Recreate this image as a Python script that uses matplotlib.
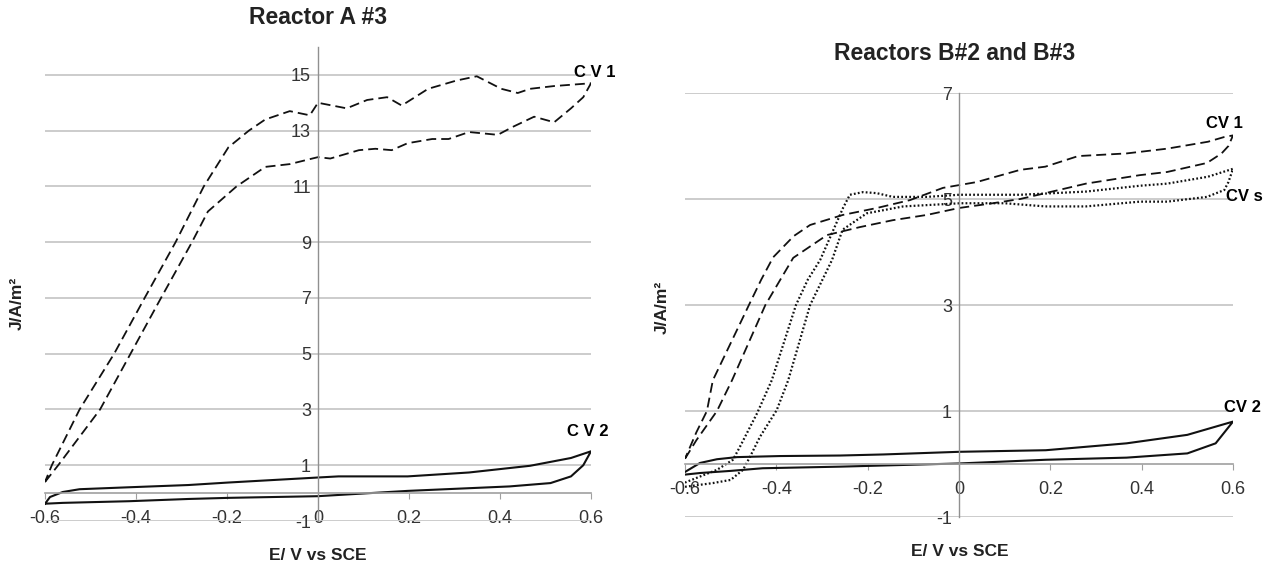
import matplotlib
matplotlib.use("Agg")
import matplotlib.pyplot as plt

plt.rcParams['font.family'] = ['Liberation Sans', 'DejaVu Sans']

# Reactor A #3 - CV 1 (dashed loop), forward branch then backward branch
a_cv1_x = [-0.6, -0.571, -0.479, -0.412, -0.345, -0.277, -0.242, -0.179, -0.116, -0.062, 0.0, 0.027,
           0.09, 0.126, 0.162, 0.197, 0.251, 0.287, 0.332, 0.395, 0.43, 0.475, 0.519, 0.556, 0.583, 0.6,
           0.519, 0.466, 0.439, 0.403, 0.349, 0.305, 0.242, 0.184, 0.152, 0.108, 0.063, 0.0, -0.018,
           -0.062, -0.116, -0.152, -0.197, -0.251, -0.313, -0.381, -0.448, -0.524, -0.585, -0.6]
a_cv1_y = [0.4, 1.0, 3.0, 5.0, 7.0, 9.0, 10.1, 11.0, 11.7, 11.8, 12.05, 12.0,
           12.3, 12.35, 12.3, 12.55, 12.7, 12.7, 12.95, 12.85, 13.15, 13.5, 13.3, 13.8, 14.2, 14.7,
           14.6, 14.5, 14.35, 14.5, 14.95, 14.8, 14.5, 13.9, 14.2, 14.1, 13.8, 14.0, 13.55,
           13.7, 13.4, 13.0, 12.4, 11.0, 9.0, 7.0, 5.0, 3.0, 1.0, 0.4]

# Reactor A #3 - CV 2 (solid loop)
a_cv2_x = [-0.6, -0.561, -0.415, -0.285, -0.197, 0.0, 0.197, 0.421, 0.511, 0.556, 0.583, 0.6,
           0.556, 0.466, 0.332, 0.197, 0.045, 0.0, -0.197, -0.285, -0.415, -0.524, -0.561, -0.589, -0.6]
a_cv2_y = [-0.38, -0.35, -0.29, -0.21, -0.17, -0.11, 0.08, 0.24, 0.36, 0.6, 1.0, 1.5,
           1.26, 0.98, 0.74, 0.6, 0.6, 0.56, 0.38, 0.29, 0.21, 0.14, 0.04, -0.14, -0.38]

# Reactors B#2 and B#3 - CV 1 (dashed loop)
b_cv1_x = [-0.6, -0.575, -0.53, -0.497, -0.424, -0.363, -0.289, -0.217, -0.145, -0.07, 0.0, 0.074,
           0.134, 0.189, 0.278, 0.396, 0.456, 0.543, 0.575, 0.59, 0.6,
           0.581, 0.545, 0.456, 0.367, 0.261, 0.189, 0.134, 0.039, -0.035, -0.107, -0.18, -0.254,
           -0.326, -0.362, -0.407, -0.433, -0.46, -0.5, -0.539, -0.552, -0.575, -0.6]
b_cv1_y = [0.1, 0.45, 1.0, 1.58, 3.0, 3.89, 4.32, 4.47, 4.6, 4.7, 4.83, 4.92,
           5.0, 5.11, 5.29, 5.45, 5.51, 5.68, 5.86, 6.0, 6.2,
           6.17, 6.08, 5.95, 5.86, 5.81, 5.61, 5.55, 5.32, 5.21, 4.98, 4.83, 4.70,
           4.51, 4.3, 3.9, 3.48, 3.0, 2.28, 1.58, 1.0, 0.6, 0.1]

# Reactors B#2 and B#3 - CV s (dotted loop)
b_cvs_x = [-0.6, -0.539, -0.5, -0.473, -0.458, -0.436, -0.399, -0.374, -0.326, -0.278, -0.255, -0.202,
           -0.122, 0.003, 0.1, 0.189, 0.278, 0.396, 0.456, 0.543, 0.581, 0.59, 0.6,
           0.545, 0.456, 0.396, 0.278, 0.134, 0.0, -0.07, -0.145, -0.18, -0.21, -0.239, -0.254,
           -0.304, -0.331, -0.357, -0.41, -0.442, -0.48, -0.495, -0.53, -0.574, -0.6]
b_cvs_y = [-0.43, -0.36, -0.30, -0.11, 0.13, 0.51, 1.02, 1.58, 3.0, 3.85, 4.42, 4.73,
           4.86, 4.92, 4.92, 4.86, 4.86, 4.95, 4.95, 5.04, 5.17, 5.32, 5.57,
           5.42, 5.29, 5.25, 5.14, 5.08, 5.08, 5.04, 5.04, 5.11, 5.13, 5.08, 4.83,
           3.85, 3.48, 3.0, 1.58, 0.96, 0.32, 0.08, -0.11, -0.26, -0.35]

# Reactors B#2 and B#3 - CV 2 (solid loop)
b_cv2_x = [-0.6, -0.567, -0.5, -0.43, -0.26, 0.0, 0.19, 0.367, 0.5, 0.562, 0.6,
           0.5, 0.367, 0.19, 0.0, -0.166, -0.26, -0.392, -0.486, -0.53, -0.567, -0.6]
b_cv2_y = [-0.2, -0.17, -0.13, -0.08, -0.05, 0.01, 0.08, 0.12, 0.2, 0.39, 0.8,
           0.55, 0.39, 0.26, 0.23, 0.18, 0.16, 0.15, 0.13, 0.09, 0.02, -0.15]

x_ticks = [-0.6, -0.4, -0.2, 0, 0.2, 0.4, 0.6]
x_labels = ['-0.6', '-0.4', '-0.2', '0', '0.2', '0.4', '0.6']
a_y_ticks = [-1, 1, 3, 5, 7, 9, 11, 13, 15]
b_y_ticks = [-1, 1, 3, 5, 7]

W, H = 1272, 568
fig = plt.figure(figsize=(W / 100, H / 100), dpi=100)


def px_axes(left, right, top, bottom):  # axes from pixel edges
    return fig.add_axes([left / W, 1 - bottom / H, (right - left) / W, (bottom - top) / H])


def style_axes(ax, ylim, yticks):  # Excel-like axes crossing at (0, 0)
    ax.set_xlim(-0.6, 0.6)
    ax.set_ylim(*ylim)
    ax.spines['top'].set_visible(False)
    ax.spines['right'].set_visible(False)
    ax.spines['bottom'].set_position(('data', 0))
    ax.spines['left'].set_position(('data', 0))
    ax.spines['bottom'].set_color('#a0a0a0')
    ax.spines['bottom'].set_linewidth(1.2)
    ax.spines['left'].set_color('#909090')
    ax.spines['left'].set_linewidth(1.0)
    ax.set_xticks(x_ticks)
    ax.set_xticklabels(x_labels)
    ax.set_yticks(yticks)
    ax.set_yticklabels([str(v) for v in yticks])
    ax.tick_params(axis='x', direction='out', length=4, color='#a0a0a0', pad=8,
                   labelsize=13, labelcolor='#333333')
    ax.tick_params(axis='y', length=0, pad=5, labelsize=13, labelcolor='#333333')
    ax.grid(axis='y', color='#c8c8c8', linewidth=1.3)
    ax.grid(axis='x', visible=False)
    ax.set_axisbelow(True)
    ax.patch.set_alpha(0)


dash = (0, (5.5, 2.8))

# left panel
ax1 = px_axes(45, 591, 47, 521)
style_axes(ax1, (-1, 16), a_y_ticks)
ax1.plot(a_cv1_x, a_cv1_y, color='#111111', lw=1.3, linestyle=dash)
ax1.plot(a_cv2_x, a_cv2_y, color='#111111', lw=1.5)
ax1.text(0.609, 15.1, 'C V 1', fontsize=12, fontweight='bold', ha='center', va='center', clip_on=False)
ax1.text(0.593, 2.2, 'C V 2', fontsize=12, fontweight='bold', ha='center', va='center', clip_on=False)

# right panel
ax2 = px_axes(685, 1233, 93, 517)
style_axes(ax2, (-1, 7), b_y_ticks)
ax2.plot(b_cv1_x, b_cv1_y, color='#111111', lw=1.3, linestyle=dash)
ax2.plot(b_cvs_x, b_cvs_y, color='#111111', lw=1.6, linestyle=(0, (0.8, 1.0)))
ax2.plot(b_cv2_x, b_cv2_y, color='#111111', lw=1.5)
ax2.text(0.582, 6.43, 'CV 1', fontsize=12, fontweight='bold', ha='center', va='center', clip_on=False)
ax2.text(0.625, 5.04, 'CV s', fontsize=12, fontweight='bold', ha='center', va='center', clip_on=False)
ax2.text(0.62, 1.06, 'CV 2', fontsize=12, fontweight='bold', ha='center', va='center', clip_on=False)

# titles and axis labels
fig.text(318 / W, 1 - 18 / H, 'Reactor A #3', fontsize=16.5, fontweight='bold', ha='center', va='center', color='#222222')
fig.text(955 / W, 1 - 53 / H, 'Reactors B#2 and B#3', fontsize=16.5, fontweight='bold', ha='center', va='center', color='#222222')
fig.text(318 / W, 1 - 555 / H, 'E/ V vs SCE', fontsize=12.5, fontweight='bold', ha='center', va='center', color='#222222')
fig.text(960 / W, 1 - 551 / H, 'E/ V vs SCE', fontsize=12.5, fontweight='bold', ha='center', va='center', color='#222222')
fig.text(17 / W, 1 - 303 / H, 'J/A/m²', fontsize=12.5, fontweight='bold', ha='center', va='center', rotation=90, color='#222222')
fig.text(662 / W, 1 - 307 / H, 'J/A/m²', fontsize=12.5, fontweight='bold', ha='center', va='center', rotation=90, color='#222222')

fig.savefig('out.png', dpi=100)
